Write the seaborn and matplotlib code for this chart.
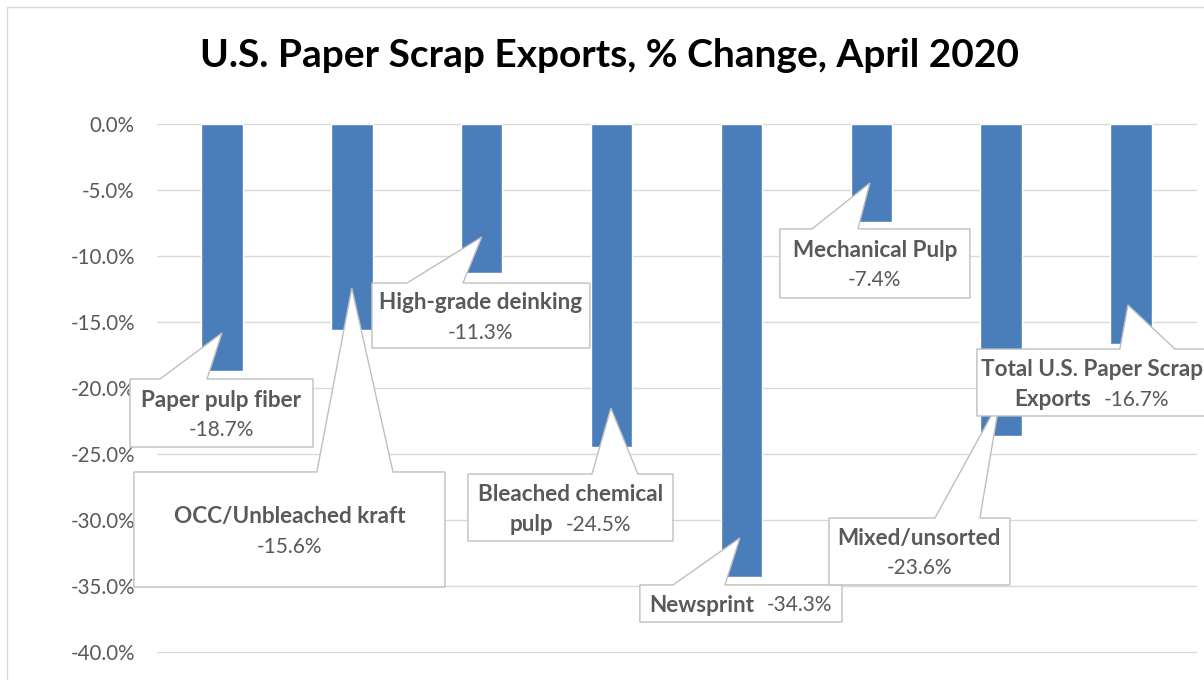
import matplotlib
matplotlib.use("Agg")
import numpy as np
import pandas as pd
import seaborn as sns
import matplotlib.pyplot as plt
from matplotlib.patches import Polygon, Rectangle
from matplotlib.transforms import ScaledTranslation
from matplotlib.ticker import FuncFormatter

# ---------------- data ----------------
categories = ["Paper pulp fiber", "OCC/Unbleached kraft", "High-grade deinking",
              "Bleached chemical pulp", "Newsprint", "Mechanical Pulp",
              "Mixed/unsorted", "Total U.S. Paper Scrap Exports"]
values = [-18.7, -15.6, -11.3, -24.5, -34.3, -7.4, -23.6, -16.7]
yticks = [0, -5, -10, -15, -20, -25, -30, -35, -40]
title = "U.S. Paper Scrap Exports, % Change, April 2020"

# ---------------- callout layout (data units) ----------------
box_x = [(-0.708, 0.701), (-0.678, 1.717), (1.155, 2.833), (1.894, 3.473),
         (3.218, 4.774), (4.296, 5.759), (4.674, 6.067), (5.813, 7.58)]
box_y = [(-19.32, -24.47), (-26.36, -35.08), (-12.05, -16.97), (-26.52, -31.59),
         (-34.92, -37.73), (-7.95, -13.18), (-29.85, -34.92), (-17.05, -22.12)]
wedge_base = [(-0.477, -0.115), (0.731, 1.317), (1.424, 1.856), (2.849, 3.203),
              (3.473, 3.873), (4.543, 4.897), (5.490, 5.836), (6.914, 7.338)]
tip_dx = [0.0, 0.0, 0.0, -0.005, -0.012, -0.011, -0.01, -0.024]
tip_y = [-15.83, -12.42, -8.56, -21.52, -31.36, -4.47, -20.9, -13.71]
first_line_words = [None, None, None, 2, None, None, None, 4]
value_inline = [False, False, False, True, True, False, False, True]

BAR = "#4a7ebb"
TXT = "#595959"
EDGE = "#bfbfbf"
GRID = "#d9d9d9"

sns.set_theme(style="white")
plt.rcParams["font.family"] = ["Lato", "DejaVu Sans"]

fig = plt.figure(figsize=(12.04, 6.80), dpi=100)
ax = fig.add_axes([157 / 1204, 1 - 652 / 680, (1196 - 157) / 1204, (652 - 124) / 680])

df = pd.DataFrame({"cat": categories, "val": values})
sns.barplot(data=df, x="cat", y="val", color=BAR, saturation=1, width=0.32, ax=ax, zorder=2)

ax.set_xlim(-0.5, len(categories) - 0.5)
ax.set_ylim(-40, 0)
ax.set_yticks(yticks)
ax.yaxis.set_major_formatter(FuncFormatter(lambda v, p: f"{v:.1f}%" if abs(v) > 1e-9 else "0.0%"))
ax.set_xticks([])
ax.set_xlabel("")
ax.set_ylabel("")
ax.tick_params(axis="y", length=0, pad=16, labelsize=14.8, labelcolor=TXT)
for s in ax.spines.values():
    s.set_visible(False)
ax.yaxis.grid(True, color=GRID, lw=1.0)
for gl in ax.get_ygridlines():
    gl.set_clip_on(False)
ax.set_axisbelow(True)

# chart border
fig.patches.append(Rectangle((7 / 1204, -0.2), 1.2, 1.2 - 7 / 680, transform=fig.transFigure,
                             fill=False, ec=GRID, lw=1.0, zorder=0))

fig.text(0.506, 1 - 67 / 680, title, ha="center", va="baseline", fontsize=28,
         fontweight="bold", color="black")

fig.canvas.draw()
renderer = fig.canvas.get_renderer()

FS_BOLD = 16.2
FS_REG = 15.0
LINE_PX = 30
GAP_PX = 12

for i, (cat, v) in enumerate(zip(categories, values)):
    x0, x1 = box_x[i]
    yt, yb = box_y[i]
    b1, b2 = wedge_base[i]
    tx, ty = i + tip_dx[i], tip_y[i]
    poly = Polygon([(x0, yt), (b1, yt), (tx, ty), (b2, yt), (x1, yt), (x1, yb), (x0, yb)],
                   closed=True, fc="white", ec=EDGE, lw=1.0, zorder=5 + i, clip_on=False)
    ax.add_patch(poly)

    val = f"{v:.1f}%"
    k = first_line_words[i]
    if k:
        words = cat.split()
        l1, rest = " ".join(words[:k]), " ".join(words[k:])
    else:
        l1, rest = cat, None
    if value_inline[i]:
        if rest:
            lines = [[(l1, "bold")], [(rest, "bold"), (val, "normal")]]
        else:
            lines = [[(l1, "bold"), (val, "normal")]]
    else:
        lines = [[(l1, "bold")], [(val, "normal")]]

    cx, cy = (x0 + x1) / 2, (yt + yb) / 2
    n = len(lines)
    for li, segs in enumerate(lines):
        dy_px = ((n - 1) / 2 - li) * LINE_PX
        texts = []
        for s, w in segs:
            t = ax.text(cx, cy, s, fontsize=FS_BOLD if w == "bold" else FS_REG, fontweight=w,
                        color=TXT, ha="left", va="center_baseline", zorder=20 + i, clip_on=False)
            texts.append(t)
        widths = [t.get_window_extent(renderer).width for t in texts]
        total = sum(widths) + GAP_PX * (len(texts) - 1)
        start = -total / 2
        for t, wdt in zip(texts, widths):
            t.set_transform(ax.transData + ScaledTranslation(start / fig.dpi, dy_px / fig.dpi,
                                                              fig.dpi_scale_trans))
            start += wdt + GAP_PX

fig.savefig("out.png", dpi=100, facecolor="white")
